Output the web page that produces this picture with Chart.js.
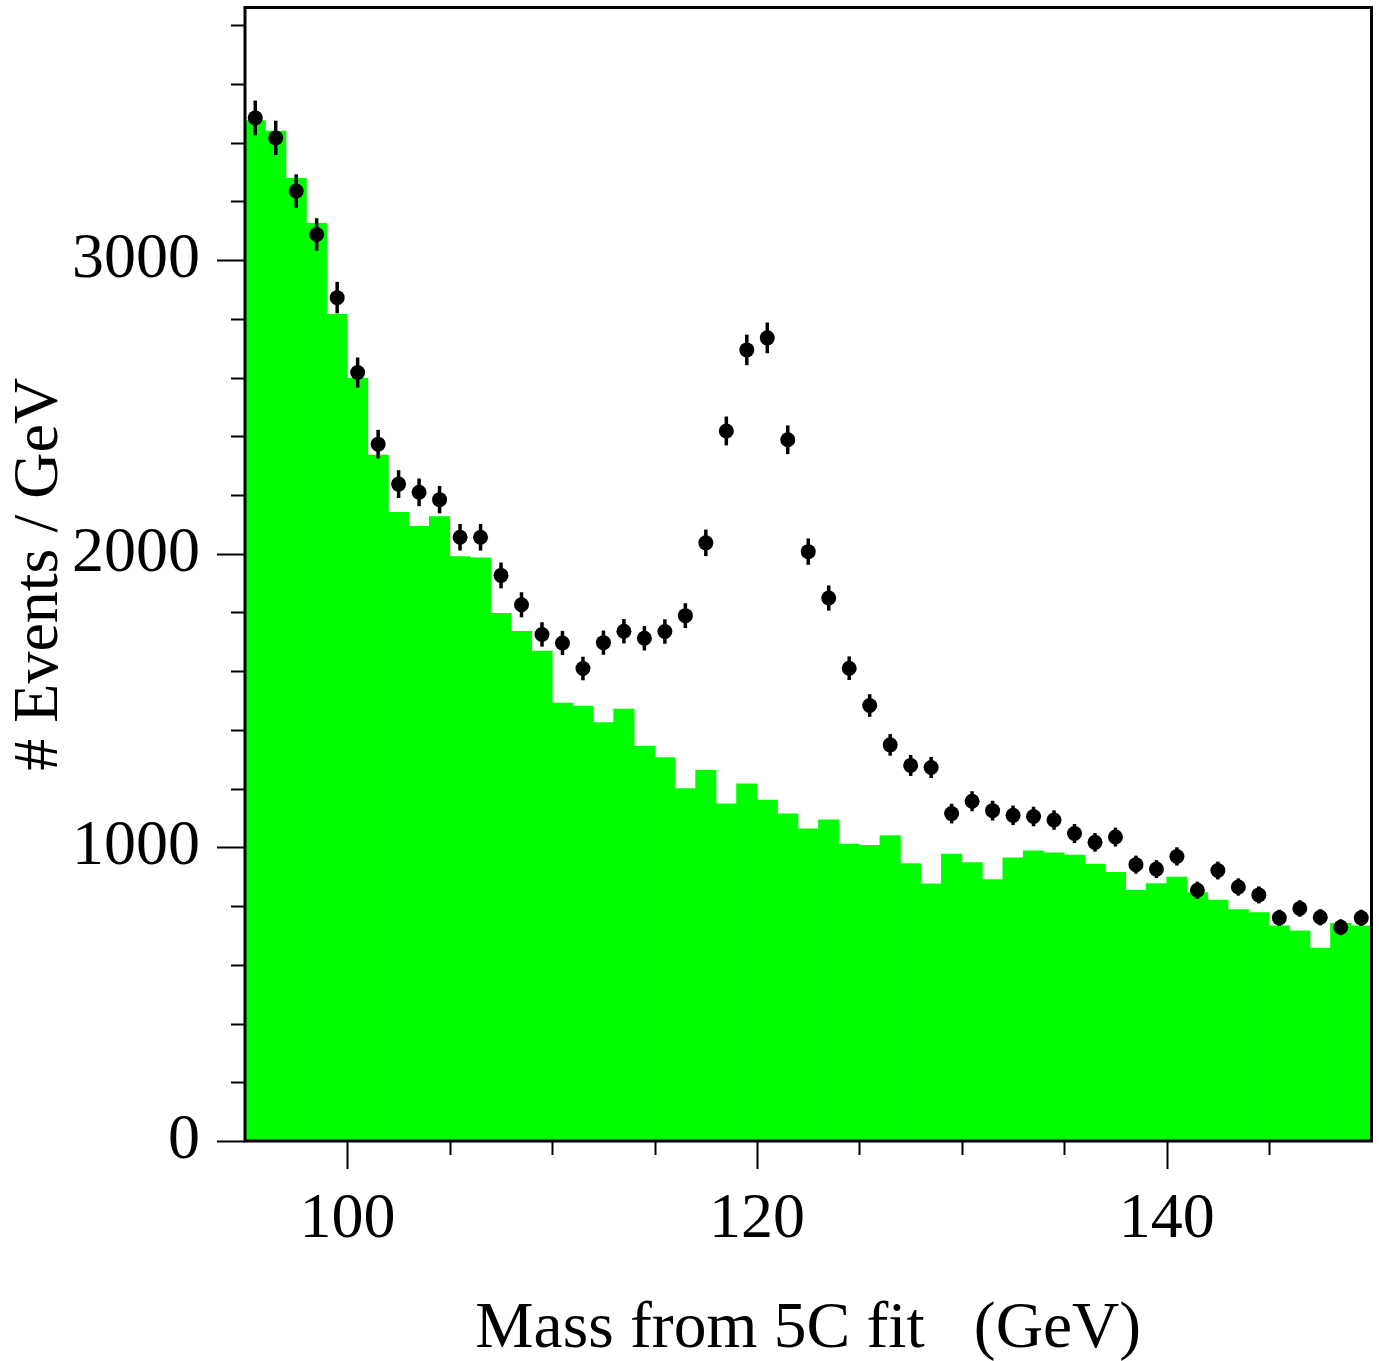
<!DOCTYPE html>
<html lang="en">
  <head>
    <meta charset="UTF-8" />
    <title>Mass from 5C fit</title>
    <script src="https://cdn.jsdelivr.net/npm/chart.js"></script>
    <style>
      body {
        margin: 0;
        background: #fff;
      }
      #wrap {
        width: 1379px;
        height: 1361px;
      }
    </style>
  </head>
  <body>
    <div id="wrap"><canvas id="chart" width="1379" height="1361"></canvas></div>
    <script>
      // bin centres (GeV), 1 GeV bins from 95 to 150
      const binCenters = [
        95.5, 96.5, 97.5, 98.5, 99.5, 100.5, 101.5, 102.5, 103.5, 104.5,
        105.5, 106.5, 107.5, 108.5, 109.5, 110.5, 111.5, 112.5, 113.5, 114.5,
        115.5, 116.5, 117.5, 118.5, 119.5, 120.5, 121.5, 122.5, 123.5, 124.5,
        125.5, 126.5, 127.5, 128.5, 129.5, 130.5, 131.5, 132.5, 133.5, 134.5,
        135.5, 136.5, 137.5, 138.5, 139.5, 140.5, 141.5, 142.5, 143.5, 144.5,
        145.5, 146.5, 147.5, 148.5, 149.5,
      ];

      // green histogram (background)
      const background = [
        3475, 3439, 3278, 3125, 2815, 2598, 2336, 2141, 2093, 2126,
        1990, 1986, 1797, 1736, 1668, 1491, 1480, 1425, 1471, 1344,
        1306, 1200, 1262, 1148, 1216, 1161, 1114, 1063, 1094, 1011,
        1007, 1040, 945, 876, 977, 948, 890, 964, 988, 981,
        974, 943, 915, 854, 877, 899, 846, 820, 788, 778,
        733, 716, 657, 741, 733,
      ];

      // black points (data)
      const events = [
        3484, 3416, 3235, 3087, 2872, 2617, 2373, 2237, 2209, 2184,
        2056, 2056, 1926, 1826, 1725, 1696, 1609, 1697, 1736, 1712,
        1735, 1789, 2037, 2418, 2694, 2735, 2388, 2007, 1849, 1610,
        1483, 1349, 1279, 1272, 1115, 1157, 1125, 1109, 1105, 1093,
        1047, 1017, 1035, 941, 926, 969, 854, 921, 865, 838,
        760, 792, 762, 728, 760,
      ];

      const xTicks = [100, 120, 140];
      const xMinorTicks = [105, 110, 115, 125, 130, 135, 145];
      const yTicks = [0, 1000, 2000, 3000];
      const yMinorTicks = [
        200, 400, 600, 800, 1200, 1400, 1600, 1800, 2200, 2400, 2600, 2800,
        3200, 3400, 3600, 3800,
      ];

      const serif = '"Liberation Serif", "Times New Roman", serif';

      // frame, tick marks and error bars
      const framePlugin = {
        id: "frame",
        afterDatasetsDraw(chart) {
          const { ctx, scales } = chart;
          const xs = scales.x;
          const ys = scales.y;

          // statistical error bars
          ctx.save();
          ctx.strokeStyle = "#000";
          ctx.lineWidth = 3.5;
          events.forEach((v, i) => {
            const px = xs.getPixelForValue(binCenters[i]);
            const err = Math.sqrt(v);
            ctx.beginPath();
            ctx.moveTo(px, ys.getPixelForValue(v + err));
            ctx.lineTo(px, ys.getPixelForValue(v - err));
            ctx.stroke();
          });
          ctx.restore();
        },
        afterDraw(chart) {
          const { ctx, chartArea, scales } = chart;
          const xs = scales.x;
          const ys = scales.y;
          ctx.save();
          ctx.strokeStyle = "#000";
          ctx.lineWidth = 2;
          ctx.beginPath();
          xTicks.forEach((v) => {
            const px = Math.round(xs.getPixelForValue(v)) + 0.5;
            ctx.moveTo(px, chartArea.bottom);
            ctx.lineTo(px, chartArea.bottom + 28);
          });
          xMinorTicks.forEach((v) => {
            const px = Math.round(xs.getPixelForValue(v)) + 0.5;
            ctx.moveTo(px, chartArea.bottom);
            ctx.lineTo(px, chartArea.bottom + 14);
          });
          yTicks.forEach((v) => {
            const py = Math.round(ys.getPixelForValue(v)) + 0.5;
            ctx.moveTo(chartArea.left, py);
            ctx.lineTo(chartArea.left - 28, py);
          });
          yMinorTicks.forEach((v) => {
            const py = Math.round(ys.getPixelForValue(v)) + 0.5;
            ctx.moveTo(chartArea.left, py);
            ctx.lineTo(chartArea.left - 14, py);
          });
          ctx.stroke();

          ctx.lineWidth = 3;
          ctx.strokeRect(
            chartArea.left,
            chartArea.top,
            chartArea.right - chartArea.left,
            chartArea.bottom - chartArea.top
          );
          ctx.restore();
        },
      };

      new Chart(document.getElementById("chart"), {
        type: "bar",
        data: {
          datasets: [
            {
              type: "scatter",
              data: binCenters.map((x, i) => ({ x: x, y: events[i] })),
              pointRadius: 7.5,
              pointBackgroundColor: "#000",
              pointBorderWidth: 0,
              order: 0,
            },
            {
              type: "bar",
              data: binCenters.map((x, i) => ({ x: x, y: background[i] })),
              backgroundColor: "#00ff00",
              borderWidth: 0,
              barPercentage: 1,
              categoryPercentage: 1,
              order: 1,
            },
          ],
        },
        options: {
          responsive: false,
          animation: false,
          devicePixelRatio: 1,
          layout: { padding: { top: 7, right: 7, left: 0, bottom: 0 } },
          plugins: {
            legend: { display: false },
            tooltip: { enabled: false },
          },
          scales: {
            x: {
              type: "linear",
              min: 95,
              max: 150,
              offset: false,
              grid: { display: false },
              border: { display: false },
              afterBuildTicks: (s) => {
                s.ticks = xTicks.map((v) => ({ value: v }));
              },
              afterFit: (s) => {
                s.height = 220;
                s.paddingLeft = 0;
                s.paddingRight = 0;
              },
              ticks: {
                padding: 33,
                maxRotation: 0,
                color: "#000",
                font: { family: serif, size: 64 },
                callback: (v) => String(v),
              },
              title: {
                display: true,
                text: "Mass from 5C fit   (GeV)",
                color: "#000",
                font: { family: serif, size: 65.5, lineHeight: 1 },
                padding: { top: 0, bottom: -2 },
              },
            },
            y: {
              type: "linear",
              min: 0,
              max: 3860,
              grid: { display: false },
              border: { display: false },
              afterBuildTicks: (s) => {
                s.ticks = yTicks.map((v) => ({ value: v }));
              },
              afterFit: (s) => {
                s.width = 245;
                s.paddingTop = 0;
                s.paddingBottom = 0;
              },
              ticks: {
                padding: 37,
                color: "#000",
                font: { family: serif, size: 64 },
                callback: (v) => String(v),
              },
              title: {
                display: true,
                text: "# Events / GeV",
                color: "#000",
                font: { family: serif, size: 64, lineHeight: 1 },
                padding: { top: 8, bottom: 0 },
              },
            },
          },
        },
        plugins: [framePlugin],
      });
    </script>
  </body>
</html>
